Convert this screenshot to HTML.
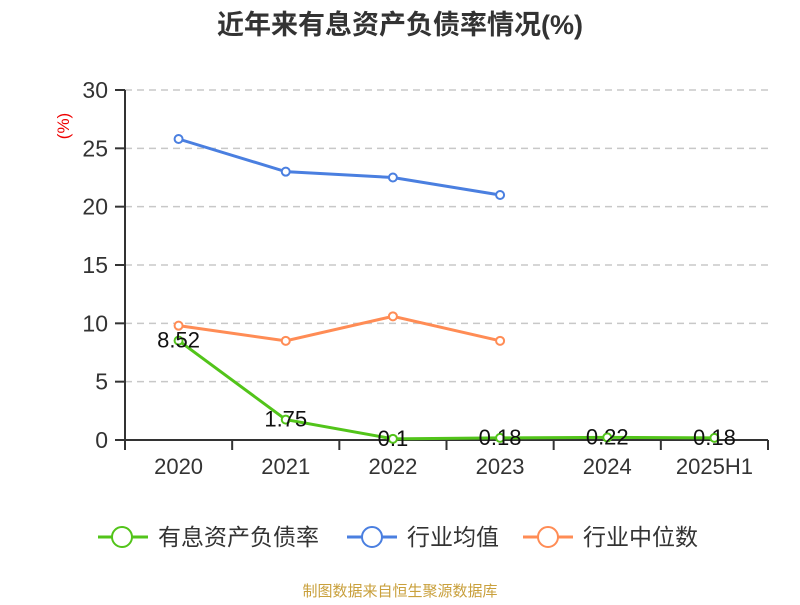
<!DOCTYPE html>
<html><head><meta charset="utf-8"><style>
body{margin:0;background:#fff;}
svg text{font-family:"Liberation Sans","Noto Sans CJK SC",sans-serif;}
</style></head><body>
<svg width="800" height="600" id="c">
<text x="400" y="34" text-anchor="middle" font-size="27" font-weight="bold" fill="#333">近年来有息资产负债率情况(%)</text>
<text transform="translate(69,126) rotate(-90)" text-anchor="middle" font-size="17" fill="#e00">(%)</text>
<g id="grid"></g><g id="axes"></g><g id="series"></g>
<g font-size="23" fill="#333">
<g><line x1="98" y1="537" x2="148" y2="537" stroke="#52c41a" stroke-width="3"/><circle cx="122" cy="537" r="10" fill="#fff" stroke="#52c41a" stroke-width="2"/><text x="158" y="545">有息资产负债率</text></g>
<g><line x1="347" y1="537" x2="397" y2="537" stroke="#4a7fe0" stroke-width="3"/><circle cx="372" cy="537" r="10" fill="#fff" stroke="#4a7fe0" stroke-width="2"/><text x="407" y="545">行业均值</text></g>
<g><line x1="523" y1="537" x2="573" y2="537" stroke="#ff8c55" stroke-width="3"/><circle cx="548" cy="537" r="10" fill="#fff" stroke="#ff8c55" stroke-width="2"/><text x="583" y="545">行业中位数</text></g>
</g>
<text x="400" y="596" text-anchor="middle" font-size="15" fill="#c9a03c">制图数据来自恒生聚源数据库</text>
</svg>
<script>
const categories=["2020","2021","2022","2023","2024","2025H1"];
const debtRatio=[8.52,1.75,0.1,0.18,0.22,0.18];
const debtLabels=["8.52","1.75","0.1","0.18","0.22","0.18"];
const industryAvg=[25.8,23.0,22.5,21.0];
const industryMedian=[9.8,8.5,10.6,8.5];
const yTicks=[0,5,10,15,20,25,30];
const NS="http://www.w3.org/2000/svg";
const L=125,R=768,T=90,B=440,yMax=30;
const bw=(R-L)/categories.length;
const x=i=>L+bw*(i+0.5);
const y=v=>B-(v/yMax)*(B-T);
function mk(tag,attrs,parent){const e=document.createElementNS(NS,tag);for(const k in attrs)e.setAttribute(k,attrs[k]);parent.appendChild(e);return e;}
const grid=document.getElementById('grid'),axes=document.getElementById('axes'),ser=document.getElementById('series');
yTicks.forEach(t=>{
 if(t>0){const g=mk('line',{x1:L,x2:R,y1:y(t),y2:y(t),stroke:'#c8c8c8','stroke-dasharray':'7,5','stroke-width':1.5},grid);
 }
 const tk=mk('line',{x1:L-10,x2:L,y1:y(t),y2:y(t),stroke:'#333','stroke-width':2},axes);
 
 const lb=mk('text',{x:L-17,y:y(t)+8,'text-anchor':'end','font-size':23,fill:'#333'},axes);lb.textContent=t;
 
});
const ya=mk('line',{x1:L,x2:L,y1:T,y2:B,stroke:'#333','stroke-width':2},axes);

const xa=mk('line',{x1:L,x2:R,y1:B,y2:B,stroke:'#333','stroke-width':2},axes);

for(let i=0;i<=categories.length;i++){const t=mk('line',{x1:L+bw*i,x2:L+bw*i,y1:B,y2:B+10,stroke:'#333','stroke-width':2},axes);
 }
categories.forEach((c,i)=>{const t=mk('text',{x:x(i),y:B+34,'text-anchor':'middle','font-size':22,fill:'#333'},axes);t.textContent=c;
 });
function series(vals,color,name){
 const p=mk('polyline',{points:vals.map((v,i)=>x(i)+','+y(v)).join(' '),fill:'none',stroke:color,'stroke-width':3},ser);
 
 vals.forEach((v,i)=>{const c=mk('circle',{cx:x(i),cy:y(v),r:4,fill:'#fff',stroke:color,'stroke-width':2},ser);
  });
}
series(industryAvg,'#4a7fe0','industry-avg');
series(industryMedian,'#ff8c55','industry-median');
series(debtRatio,'#52c41a','debt-ratio');
debtRatio.forEach((v,i)=>{const t=mk('text',{x:x(i),y:y(v)+7,'text-anchor':'middle','font-size':22,fill:'#111'},ser);t.textContent=debtLabels[i];
 });
</script>
</body></html>
